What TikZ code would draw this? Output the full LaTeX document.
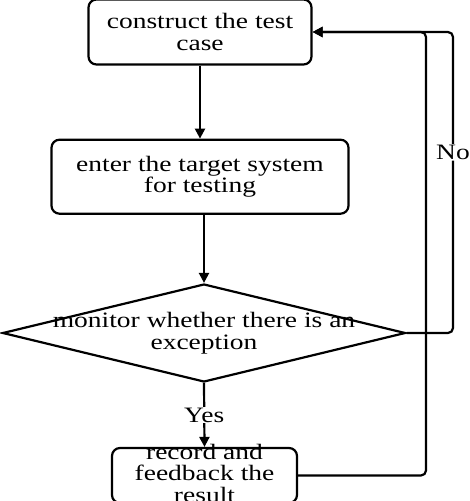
\documentclass[tikz,border=0pt]{standalone}
\usepackage{fontspec}
\setmainfont[FakeStretch=1.25]{Liberation Serif}
\usetikzlibrary{positioning, shapes.geometric, arrows.meta}

\begin{document}
\begin{tikzpicture}[
  x=1pt, y=-1pt,
  font=\fontsize{22}{21.5}\selectfont,
  stepbox/.style={
    draw, rounded corners=8pt, line width=2.2pt,
    align=center, inner sep=0pt
  },
  decision/.style={
    draw, diamond, line width=2.2pt, inner sep=0pt,
    minimum width=403pt, minimum height=98pt
  },
  flow/.style={
    line width=2.2pt, -{Triangle[length=10pt, width=10pt]}
  },
  lbl/.style={fill=white, inner sep=1pt}
]
\useasboundingbox (0,0) rectangle (469,501);
\clip (0,0) rectangle (469,501);

\node[stepbox, minimum width=223pt, minimum height=65pt] (cons) at (200, 32)
  {construct the test\\case};
\node[stepbox, minimum width=297pt, minimum height=74pt, below=73pt of cons] (enter)
  {enter the target system\\for testing};
\node[decision] (mon) at (204, 333) {};
\node[align=center, inner sep=0pt] (montxt) at (mon) {monitor whether there is an\\exception};
\node[stepbox, minimum width=185pt, minimum height=55pt] (rec) at (204.5, 475.5) {};
\node[align=center, inner sep=0pt] (rectxt) at (204.5, 473) {record and\\feedback the\\result};

\coordinate (loopin) at (426, 32);
\coordinate (loopout) at (453, 32);

\draw[flow] (cons) -- (enter);
\draw[flow] (enter.south -| mon.north) -- (mon.north);
\draw[flow] (mon.south) -- node[lbl] (yes) {Yes} (rec.north);
\draw[flow, rounded corners=5pt] (rec.east) -| (loopin) -- (cons.east);
\draw[flow, rounded corners=5pt] (mon.east) -| node[lbl, pos=0.8] (no) {No} (loopout) -- (cons.east);

\end{tikzpicture}
\end{document}
